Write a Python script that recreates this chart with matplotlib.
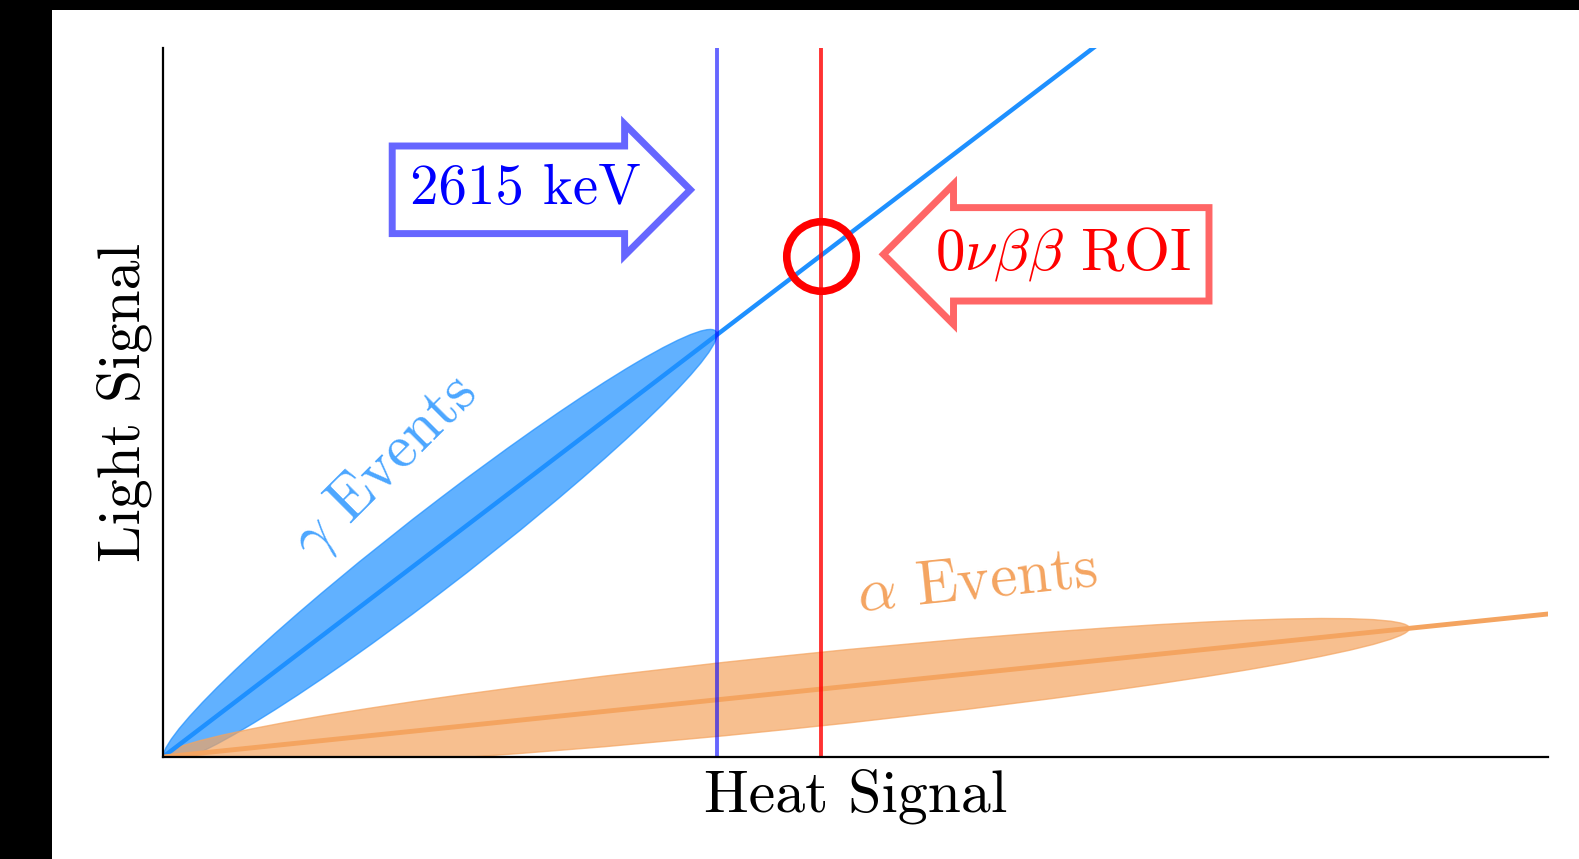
from matplotlib import pyplot as plt
from matplotlib import patches, transforms

plt.rcParams['font.family'] = 'serif'
plt.rcParams['font.serif'] = ['cmr10']
plt.rcParams['mathtext.fontset'] = 'cm'
plt.rcParams['axes.unicode_minus'] = False

# Band slopes (light / heat) and where each band ends
gamma_slope = 1.489
alpha_slope = 0.2017
gamma_end = 0.40
alpha_end = 0.90
# Largest vertical half-width of each band
gamma_halfwidth = 0.067
alpha_halfwidth = 0.052
# Marked energies on the heat axis
line_2615 = 0.40
line_roi = 0.475
label_2615 = '2615 keV'
label_roi = r'$0\nu\beta\beta$ ROI'
label_gamma = r'$\gamma$ Events'
label_alpha = r'$\alpha$ Events'

fig = plt.figure(figsize=(15.79, 8.59), dpi=100)
fig.patch.set_facecolor('black')
fig.add_artist(patches.Rectangle((52 / 1579, 0), 1 - 52 / 1579, 1 - 10 / 859,
                                 transform=fig.transFigure, facecolor='white',
                                 edgecolor='none', zorder=-10))
ax = fig.add_axes([163 / 1579, 1 - 757 / 859, 1385 / 1579, 709 / 859])
ax.set_facecolor('none')
ax.set_xlim(0, 1)
ax.set_ylim(0, 1)
ax.set_xticks([])
ax.set_yticks([])
for s in ['top', 'right']:
    ax.spines[s].set_visible(False)
for s in ['left', 'bottom']:
    ax.spines[s].set_linewidth(1.6)


# Band as a sheared ellipse touching the line at 0 and at the end point
def band(slope, end, halfwidth, color):
    r = end / 2
    tr = transforms.Affine2D.from_values(r, slope * r, 0, halfwidth, r, slope * r)
    c = patches.Circle((0, 0), 1, transform=tr + ax.transData,
                       facecolor=color, edgecolor=color, alpha=0.7, lw=1)
    ax.add_patch(c)


band(gamma_slope, gamma_end, gamma_halfwidth, 'dodgerblue')
ax.plot([0, 1], [0, gamma_slope], color='dodgerblue', lw=3.2)
band(alpha_slope, alpha_end, alpha_halfwidth, 'sandybrown')
ax.plot([0, 1], [0, alpha_slope], color='sandybrown', lw=3.5)

ax.axvline(line_2615, color='blue', alpha=0.6, lw=2.8)
ax.axvline(line_roi, color='red', alpha=0.8, lw=2.8)
ax.plot(line_roi, line_roi * gamma_slope, marker='o', ms=50, mfc='none',
        mec='red', mew=5.5, zorder=5)

ax.text(0.262, 0.800, label_2615, color='blue', fontsize=41, ha='center', va='center',
        bbox=dict(boxstyle='rarrow,pad=0.32', fc='white', ec=(0.4, 0.4, 1.0), lw=5))
ax.text(0.650, 0.709, label_roi, color='red', fontsize=42.5, ha='center', va='center',
        bbox=dict(boxstyle='larrow,pad=0.3', fc='white', ec=(1.0, 0.4, 0.4), lw=5))

ax.text(0.161, 0.408, label_gamma, color='dodgerblue', alpha=0.8, fontsize=44,
        rotation=45, ha='center', va='center')
ax.text(0.588, 0.246, label_alpha, color='sandybrown', fontsize=44,
        rotation=6, ha='center', va='center')

ax.set_xlabel('Heat Signal', fontsize=43, labelpad=8)
ax.set_ylabel('Light Signal', fontsize=43, labelpad=8)

fig.savefig('out.png', dpi=100, facecolor=fig.get_facecolor())
